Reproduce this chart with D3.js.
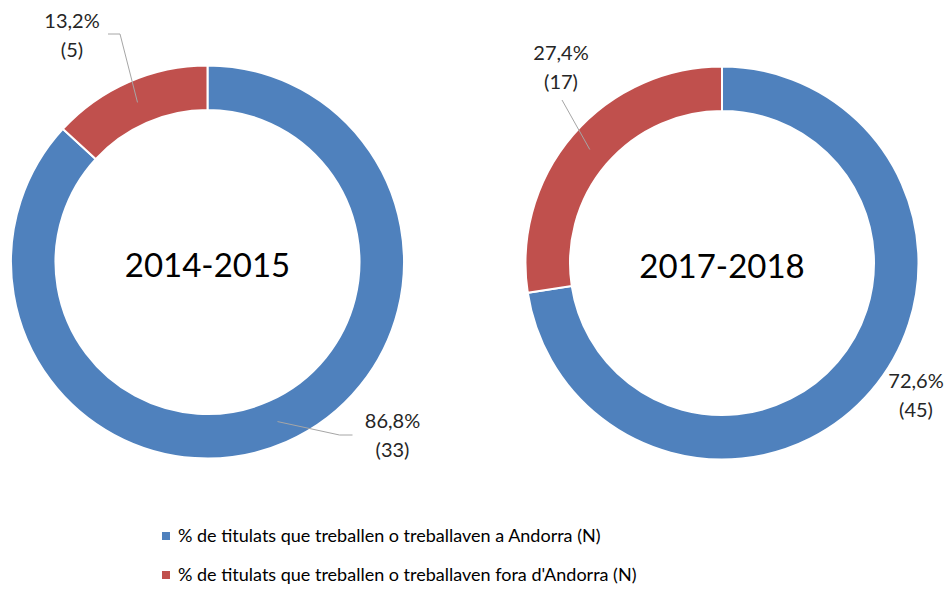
<!DOCTYPE html>
<html>
<head>
<meta charset="utf-8">
<script src="https://cdn.jsdelivr.net/npm/d3@7"></script>
<style>
  body { margin: 0; background: #fff; }
  svg { display: block; font-family: Lato, 'Noto Sans', sans-serif; }
</style>
</head>
<body>
<svg id="chart" width="949" height="589"></svg>
<script>
// data
const categories = [
  '% de titulats que treballen o treballaven a Andorra (N)',
  '% de titulats que treballen o treballaven fora d\'Andorra (N)'
];
const periods = ['2014-2015', '2017-2018'];
const counts2014 = [33, 5];
const counts2018 = [45, 17];
const pctLabels2014 = ['86,8%', '13,2%'];
const pctLabels2018 = ['72,6%', '27,4%'];

const colours = ['#4F81BD', '#C0504D'];

const svg = d3.select('#chart');

const outerR = 196.5;
const innerR = 152;

// where each donut sits and where its labels go (offsets from donut center)
const donuts = [
  {
    period: periods[0], counts: counts2014, pct: pctLabels2014, cx: 207.5, cy: 262,
    labels: [
      { x: 185, y: 166, elbow: [[132, 173], [145, 173]] },
      { x: -135.5, y: -234, elbow: [[-87.5, -228], [-99.5, -228]] }
    ]
  },
  {
    period: periods[1], counts: counts2018, pct: pctLabels2018, cx: 722, cy: 263,
    labels: [
      { x: 194, y: 125, elbow: null },
      { x: -161, y: -203, elbow: [[-160, -163]] }
    ]
  }
];

const pie = d3.pie().sort(null).value(d => d);
const arc = d3.arc().innerRadius(innerR).outerRadius(outerR);
const line = d3.line();

donuts.forEach(dn => {
  const g = svg.append('g').attr('transform', 'translate(' + dn.cx + ',' + dn.cy + ')');
  const slices = pie(dn.counts);

  g.selectAll('path.slice')
    .data(slices)
    .enter().append('path')
    .attr('class', 'slice')
    .attr('d', arc)
    .attr('fill', (d, i) => colours[i])
    .attr('stroke', '#fff')
    .attr('stroke-width', 2);

  g.append('text')
    .attr('text-anchor', 'middle')
    .attr('y', 15)
    .attr('font-size', 33)
    .attr('fill', '#000')
    .text(dn.period);

  slices.forEach((s, i) => {
    const lab = dn.labels[i];
    if (lab.elbow) {
      const pts = [arc.centroid(s)].concat(lab.elbow);
      g.append('path')
        .attr('d', line(pts))
        .attr('fill', 'none')
        .attr('stroke', '#A6A6A6')
        .attr('stroke-width', 1);
    }
    const t = g.append('text')
      .attr('text-anchor', 'middle')
      .attr('font-size', 20)
      .attr('fill', '#262626');
    t.append('tspan').attr('x', lab.x).attr('y', lab.y).text(dn.pct[i]);
    t.append('tspan').attr('x', lab.x).attr('y', lab.y + 29).text('(' + dn.counts[i] + ')');
  });
});

// legend
const legend = svg.append('g').attr('transform', 'translate(162,0)');
const rows = legend.selectAll('g')
  .data(categories)
  .enter().append('g')
  .attr('transform', (d, i) => 'translate(0,' + (536 + i * 39) + ')');

rows.append('rect')
  .attr('x', 0).attr('y', -4)
  .attr('width', 8).attr('height', 8)
  .attr('fill', (d, i) => colours[i]);

rows.append('text')
  .attr('x', 16).attr('y', 6)
  .attr('font-size', 18)
  .attr('fill', '#000')
  .text(d => d);
</script>
</body>
</html>
